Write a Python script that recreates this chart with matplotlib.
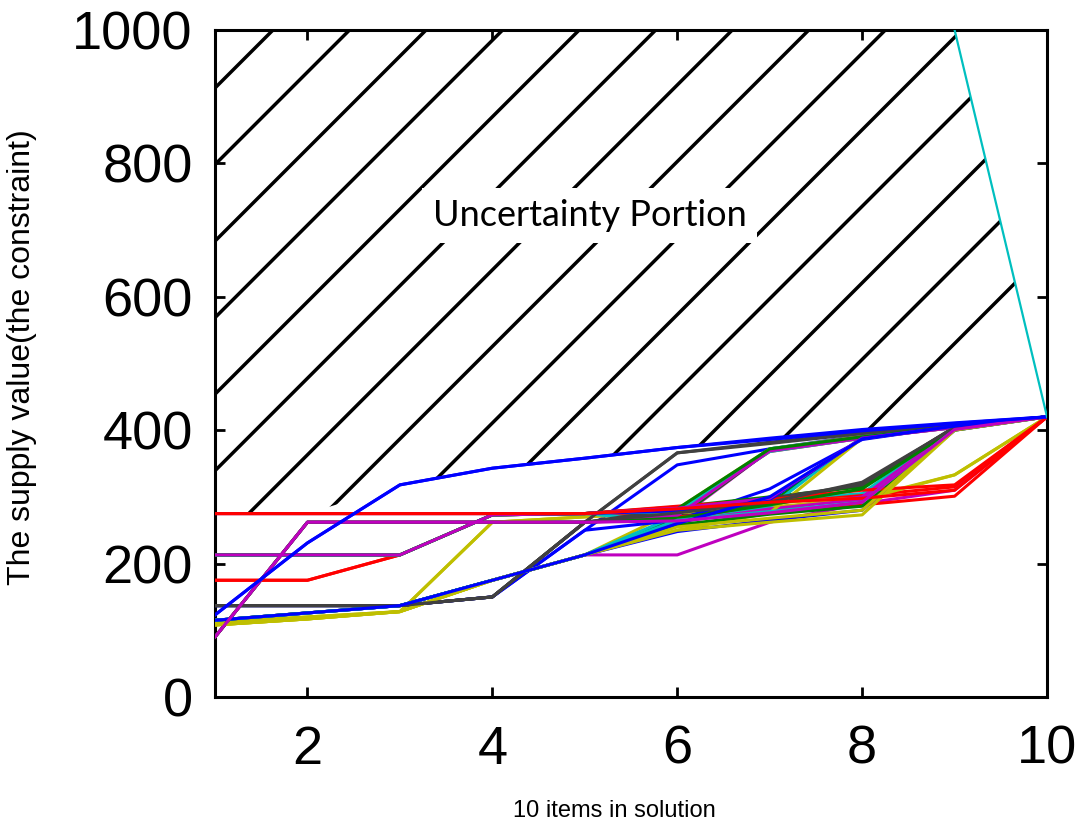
import matplotlib

matplotlib.use("Agg")
import matplotlib.pyplot as plt
import numpy as np
from matplotlib.patches import Polygon

# number of items in the solution
items = [1, 2, 3, 4, 5, 6, 7, 8, 9, 10]

# supply value of every run, one row per run
supply_runs = [
    [275, 275, 275, 275, 275, 278, 368, 388, 404, 420],
    [90, 262, 262, 262, 262, 266, 370, 389, 404, 420],
    [213, 213, 213, 273, 275, 280, 294, 305, 404, 420],
    [175, 175, 213, 273, 275, 284, 290, 302, 315, 420],
    [137, 137, 137, 150, 262, 366, 382, 396, 408, 420],
    [137, 137, 137, 150, 250, 348, 372, 392, 407, 420],
    [112, 120, 128, 262, 270, 282, 372, 391, 405, 420],
    [115, 126, 137, 175, 213, 213, 262, 290, 310, 420],
    [108, 117, 128, 175, 213, 280, 292, 298, 333, 420],
    [115, 126, 137, 175, 213, 268, 370, 389, 405, 420],
    [115, 126, 137, 175, 213, 272, 372, 390, 405, 420],
    [275, 275, 275, 275, 275, 280, 371, 390, 406, 420],
    [90, 262, 262, 262, 262, 276, 290, 388, 405, 420],
    [90, 262, 262, 262, 262, 270, 282, 300, 402, 420],
    [112, 120, 128, 262, 270, 276, 285, 296, 333, 420],
    [137, 137, 137, 150, 262, 270, 290, 320, 404, 420],
    [137, 137, 137, 150, 250, 265, 312, 386, 406, 420],
    [213, 213, 213, 273, 275, 285, 300, 315, 403, 420],
    [175, 175, 213, 273, 275, 270, 280, 288, 301, 420],
    [213, 213, 213, 273, 275, 262, 285, 390, 406, 420],
    [115, 126, 137, 175, 213, 262, 282, 296, 403, 420],
    [108, 117, 128, 175, 213, 250, 276, 388, 405, 420],
    [137, 137, 137, 150, 262, 282, 298, 318, 405, 420],
    [115, 126, 137, 175, 213, 248, 265, 280, 400, 420],
    [115, 126, 137, 175, 213, 258, 274, 286, 400, 420],
    [275, 275, 275, 275, 275, 286, 296, 310, 318, 420],
    [213, 213, 213, 273, 275, 278, 368, 388, 404, 420],
    [90, 262, 262, 262, 262, 272, 369, 388, 404, 420],
    [108, 117, 128, 175, 213, 255, 268, 280, 402, 420],
    [137, 137, 137, 150, 262, 366, 380, 395, 407, 420],
    [213, 213, 213, 273, 275, 282, 372, 390, 405, 420],
    [275, 275, 275, 275, 275, 279, 296, 388, 406, 420],
    [90, 262, 262, 262, 262, 268, 288, 312, 402, 420],
    [115, 126, 137, 175, 213, 265, 278, 292, 401, 420],
    [213, 213, 213, 273, 275, 283, 298, 388, 405, 420],
    [108, 117, 128, 175, 213, 250, 262, 273, 400, 420],
    [137, 137, 137, 150, 262, 276, 292, 322, 404, 420],
    [115, 126, 137, 175, 213, 260, 300, 387, 406, 420],
    [275, 275, 275, 275, 275, 282, 292, 298, 310, 420],
    [90, 262, 262, 262, 262, 264, 276, 292, 401, 420],
    [123, 231, 318, 343, 358, 374, 386, 399, 410, 420],
    [123, 231, 318, 343, 358, 374, 388, 401, 411, 420],
]

# the outlier run that bounds the uncertainty portion on the right
bound_items = [9, 10]
bound_supply = [1000, 420]

# upper edge of the hatched region (axis top, then the outlier run)
hatch_top = [1000, 1000, 1000, 1000, 1000, 1000, 1000, 1000, 1000, 420]

# old MATLAB line colour order
line_colors = [
    "#ff0000", "#bf00bf", "#00bfbf", "#ff0000", "#404040", "#0000ff", "#bfbf00",
    "#bf00bf", "#bfbf00", "#008000", "#00bfbf", "#ff0000", "#008000", "#bf00bf",
    "#bfbf00", "#404040", "#0000ff", "#008000", "#ff0000", "#00bfbf", "#bf00bf",
    "#bfbf00", "#404040", "#0000ff", "#008000", "#ff0000", "#00bfbf", "#bf00bf",
    "#bfbf00", "#404040", "#008000", "#0000ff", "#008000", "#00bfbf", "#bf00bf",
    "#bfbf00", "#404040", "#0000ff", "#ff0000", "#bf00bf", "#0000ff", "#0000ff",
]

plt.rcParams["font.family"] = ["Liberation Sans", "DejaVu Sans"]

fig = plt.figure(figsize=(10.81, 8.26), dpi=100)
ax = fig.add_axes([0.1989, 0.1562, 0.7697, 0.8075])

x = np.array(items)
runs = np.array(supply_runs)

# hatched "uncertainty" area above the highest run
envelope = runs.max(axis=0)
verts = np.column_stack(
    [np.concatenate([x, x[::-1]]), np.concatenate([envelope, np.array(hatch_top)[::-1]])]
)
region = Polygon(verts, closed=True, facecolor="none", edgecolor="none")
ax.add_patch(region)

pos = ax.get_position()
w_px = pos.width * fig.get_figwidth()
h_px = pos.height * fig.get_figheight()
rise = h_px / w_px
for k in range(-14, 14):
    u_top = 0.0697 + 0.092 * k
    (hl,) = ax.plot(
        [u_top - rise, u_top], [0, 1],
        transform=ax.transAxes, color="black", lw=2.5, zorder=1,
    )
    hl.set_clip_path(region)

for vals, col in zip(supply_runs, line_colors):
    ax.plot(items, vals, color=col, lw=2.2, zorder=3)

ax.plot(bound_items, bound_supply, color="#00bfbf", lw=1.6, zorder=3)

ax.text(
    5.05, 722, "Uncertainty Portion", fontsize=26, family=["Lato", "DejaVu Sans"],
    ha="center", va="center", zorder=2,
    bbox=dict(boxstyle="square,pad=0.3", facecolor="white", edgecolor="none"),
)

ax.set_xlim(1, 10)
ax.set_ylim(0, 1000)
ax.set_xticks([2, 4, 6, 8, 10])
ax.set_yticks([0, 200, 400, 600, 800, 1000])
ax.tick_params(
    direction="in", length=7, width=2, labelsize=39,
    top=True, right=True,
)
ax.tick_params(axis="x", pad=20)
ax.tick_params(axis="y", pad=16)
for sp in ax.spines.values():
    sp.set_linewidth(2.2)

ax.set_xlabel("10 items in solution", fontsize=17)
ax.xaxis.set_label_coords(0.48, -0.155)
ax.set_ylabel("The supply value(the constraint)", fontsize=23)
ax.yaxis.set_label_coords(-0.214, 0.51)

fig.savefig("out.png", dpi=100)
